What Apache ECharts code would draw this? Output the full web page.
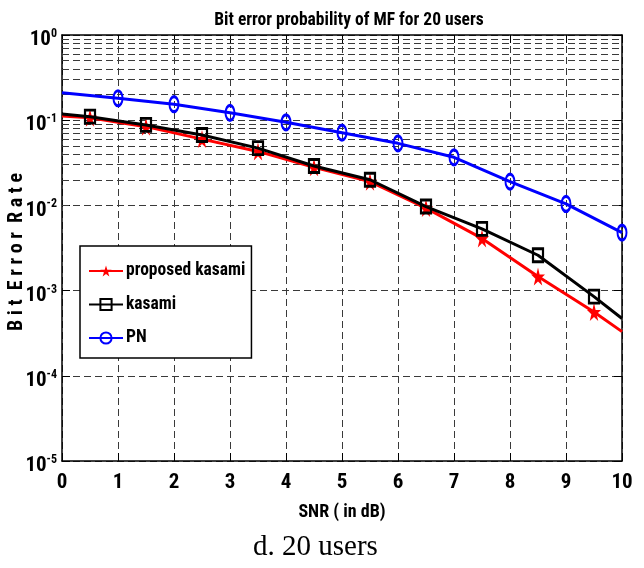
<!DOCTYPE html>
<html>
<head>
<meta charset="utf-8">
<script src="https://cdn.jsdelivr.net/npm/echarts@6/dist/echarts.min.js"></script>
<style>
html,body{margin:0;padding:0;background:#fff;}
#chart{width:644px;height:568px;}
</style>
</head>
<body>
<div id="chart"></div>
<script>
// ---- data ----
const xKasami = [0, 0.5, 1.5, 2.5, 3.5, 4.5, 5.5, 6.5, 7.5, 8.5, 9.5, 10];
const proposedKasami = [0.112, 0.107, 0.084, 0.060, 0.043, 0.028, 0.019, 0.0093, 0.0041, 0.00146, 0.00056, 0.00033];
const kasami = [0.118, 0.110, 0.088, 0.067, 0.047, 0.029, 0.020, 0.0097, 0.0053, 0.0026, 0.00085, 0.00047];
const xPN = [0, 1, 2, 3, 4, 5, 6, 7, 8, 9, 10];
const pn = [0.21, 0.181, 0.154, 0.122, 0.0945, 0.0714, 0.0535, 0.0367, 0.019, 0.0104, 0.0048];
const xTicks = [0, 1, 2, 3, 4, 5, 6, 7, 8, 9, 10];
const yDecadeExponents = [0, -1, -2, -3, -4, -5];
const seriesNames = ['proposed kasami', 'kasami', 'PN'];
const yAxisTitle = 'B i t  E r r o r  R a t e';

// minor log gridlines (2..9 x 10^k)
const minorGrid = [];
for (let e = -5; e < 0; e++) {
  for (let m = 2; m <= 9; m++) minorGrid.push(m * Math.pow(10, e));
}

const FONT = "'Liberation Sans Narrow','Arial Narrow','Roboto Condensed','Liberation Sans',Arial,sans-serif";
const dash = [7, 4];
const gridColor = '#3a3a3a';

function pts(xs, ys, markerFn) {
  return xs.map((x, i) => markerFn(i) ? [x, ys[i]] : {value: [x, ys[i]], symbol: 'none'});
}
const kMarker = i => i > 0 && i < xKasami.length - 1;
const pMarker = i => i > 0;

const starPath = 'path://M50,0 L61,35 L98,35 L68,57 L79,91 L50,70 L21,91 L32,57 L2,35 L39,35 Z';

const chart = echarts.init(document.getElementById('chart'), null, {renderer: 'canvas'});
chart.setOption({
  animation: false,
  backgroundColor: '#fff',
  title: {
    text: 'Bit error probability of MF for 20 users',
    left: 344, top: 7, textAlign: 'center',
    textStyle: {fontFamily: FONT, fontWeight: 'bold', fontSize: 17.5, color: '#000'}
  },
  grid: {left: 62, right: 22, top: 35, bottom: 107, containLabel: false, outerBoundsMode: 'none'},
  legend: {
    data: seriesNames,
    orient: 'vertical',
    left: 80, top: 246,
    padding: [16, 6, 11, 8],
    itemGap: 15.5, itemWidth: 34, itemHeight: 14,
    backgroundColor: '#fff',
    borderColor: '#000', borderWidth: 1.5, borderRadius: 0,
    textStyle: {fontFamily: FONT, fontWeight: 'bold', fontSize: 17.5, color: '#000', padding: [0,0,0,-2]}
  },
  xAxis: [{
    type: 'value', min: 0, max: 10, interval: 1,
    name: 'SNR ( in dB)', nameLocation: 'middle', nameGap: 42,
    nameTextStyle: {fontFamily: FONT, fontWeight: 'bold', fontSize: 18, color: '#000'},
    axisLine: {show: true, lineStyle: {color: '#000', width: 1.5}},
    axisTick: {show: true, inside: true, length: 8, lineStyle: {color: '#000', width: 1}},
    axisLabel: {fontFamily: FONT, fontWeight: 'bold', fontSize: 21, color: '#000', margin: 11,
      formatter: v => String(xTicks[Math.round(v)])},
    splitLine: {show: true, lineStyle: {color: gridColor, type: dash, width: 1}}
  }, {
    type: 'value', min: 0, max: 10, interval: 1, position: 'top',
    axisLine: {show: true, onZero: false, lineStyle: {color: '#000', width: 1.5}},
    axisTick: {show: true, inside: true, length: 8, lineStyle: {color: '#000', width: 1}},
    axisLabel: {show: false}, splitLine: {show: false}
  }],
  yAxis: [{
    type: 'log', logBase: 10, min: 1e-5, max: 1,
    axisLine: {show: true, lineStyle: {color: '#000', width: 1.5}},
    axisTick: {show: true, inside: true, length: 8, lineStyle: {color: '#000', width: 1}},
    axisLabel: {
      margin: 5, padding: [10, 0, 0, 0],
      formatter: v => {
        const e = Math.round(Math.log10(v));
        const lbl = yDecadeExponents.indexOf(e) >= 0 ? e : e;
        return '{b|10}{s|' + lbl + '}';
      },
      rich: {
        b: {fontFamily: FONT, fontWeight: 'bold', fontSize: 21, color: '#000', lineHeight: 24},
        s: {fontFamily: FONT, fontWeight: 'bold', fontSize: 12, color: '#000', verticalAlign: 'top', lineHeight: 24, padding: [0,0,14,0]}
      }
    },
    splitLine: {show: true, lineStyle: {color: gridColor, type: dash, width: 1}},
    minorTick: {show: false}, minorSplitLine: {show: false}
  }, {
    type: 'log', logBase: 10, min: 1e-5, max: 1, position: 'right',
    axisLine: {show: true, onZero: false, lineStyle: {color: '#000', width: 1.5}},
    axisTick: {show: true, inside: true, length: 8, lineStyle: {color: '#000', width: 1}},
    axisLabel: {show: false}, splitLine: {show: false}
  }],
  series: [
    {
      name: 'grid-minor', type: 'line', data: [], silent: true,
      markLine: {
        silent: true, symbol: ['none', 'none'], z: 1, animation: false,
        label: {show: false},
        lineStyle: {color: gridColor, type: dash, width: 1},
        data: minorGrid.map(v => ({yAxis: v}))
      }
    },
    {
      name: seriesNames[0], type: 'line', z: 3,
      data: pts(xKasami, proposedKasami, kMarker),
      lineStyle: {color: '#ff0000', width: 3},
      symbol: starPath, symbolSize: [14, 18], showAllSymbol: true,
      itemStyle: {color: '#ff0000', borderColor: '#ff0000', borderWidth: 0}
    },
    {
      name: seriesNames[1], type: 'line', z: 4,
      data: pts(xKasami, kasami, kMarker),
      lineStyle: {color: '#000000', width: 3},
      symbol: 'rect', symbolSize: [10, 13], showAllSymbol: true,
      itemStyle: {color: 'rgba(0,0,0,0)', borderColor: '#000', borderWidth: 2.5}
    },
    {
      name: seriesNames[2], type: 'line', z: 5,
      data: pts(xPN, pn, pMarker),
      lineStyle: {color: '#0000ff', width: 3},
      symbol: 'circle', symbolSize: [9, 15], showAllSymbol: true,
      itemStyle: {color: 'rgba(0,0,0,0)', borderColor: '#0000ff', borderWidth: 2.5}
    }
  ],
  graphic: [{
    type: 'text', x: 17, y: 252, rotation: Math.PI / 2,
    style: {text: yAxisTitle, fontFamily: FONT, fontWeight: 'bold', fontSize: 20, fill: '#000', align: 'center', verticalAlign: 'middle'}
  }, {
    type: 'text', left: 253, top: 533,
    style: {text: 'd. 20 users', fontFamily: "'Liberation Serif','Times New Roman',serif", fontSize: 29, fill: '#000'}
  }]
});
</script>
</body>
</html>
